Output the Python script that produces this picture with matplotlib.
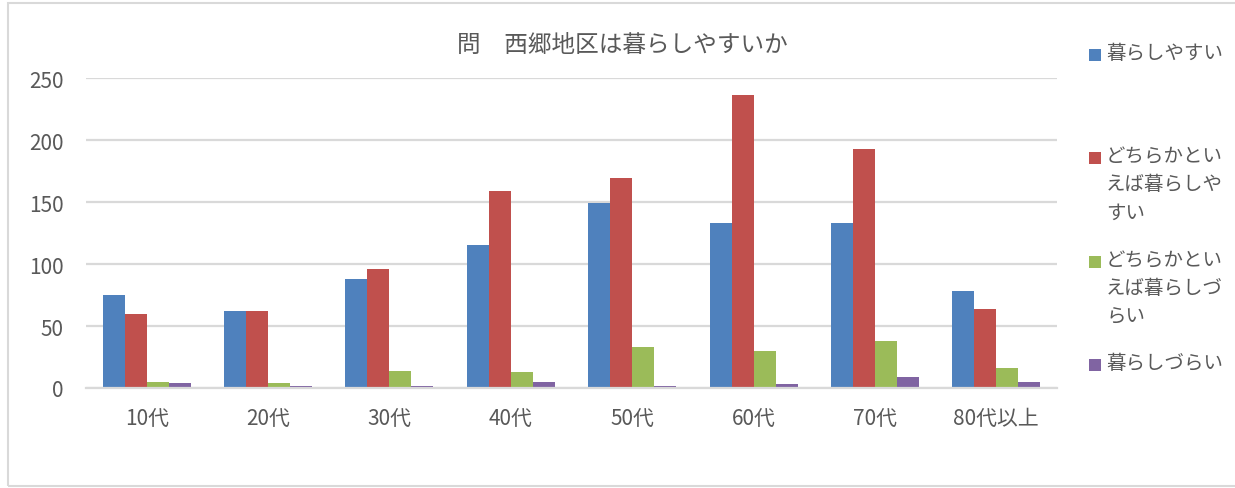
import matplotlib
matplotlib.use("Agg")
import matplotlib.pyplot as plt
import numpy as np
from matplotlib.patches import Rectangle

plt.rcParams['font.family'] = ['Noto Sans CJK JP', 'DejaVu Sans']

title = "問　西郷地区は暮らしやすいか"
categories = ["10代", "20代", "30代", "40代", "50代", "60代", "70代", "80代以上"]
series_names = ["暮らしやすい", "どちらかといえば暮らしやすい", "どちらかといえば暮らしづらい", "暮らしづらい"]
legend_labels = ["暮らしやすい", "どちらかとい\nえば暮らしや\nすい", "どちらかとい\nえば暮らしづ\nらい", "暮らしづらい"]
kurashiyasui = [75, 62, 88, 115, 149, 133, 133, 78]
dochira_yasui = [60, 62, 96, 159, 169, 236, 193, 64]
dochira_zurai = [5, 4, 14, 13, 33, 30, 38, 16]
kurashizurai = [4, 2, 2, 5, 2, 3, 9, 5]
yticks = [0, 50, 100, 150, 200, 250]

colors = ["#4F81BD", "#C0504D", "#9BBB59", "#8064A2"]
text_color = "#595959"
grid_color = "#D9D9D9"

W, H = 1235, 489
fig = plt.figure(figsize=(W / 100, H / 100), dpi=100)

# chart border
fig.patches.append(Rectangle((8 / W, 1 - 487 / H), (W + 10 - 8) / W, (487 - 4) / H,
                             transform=fig.transFigure, fill=False,
                             edgecolor=grid_color, linewidth=1.5))

left, right, top, bottom = 86, 1057, 79, 389
ax = fig.add_axes([left / W, 1 - bottom / H, (right - left) / W, (bottom - top) / H])

data = [kurashiyasui, dochira_yasui, dochira_zurai, kurashizurai]
x = np.arange(len(categories))
bw = 0.181
for i, (vals, c) in enumerate(zip(data, colors)):
    ax.bar(x + (i - 1.5) * bw, vals, width=bw, color=c, label=series_names[i], zorder=3)

ax.set_xlim(-0.5, len(categories) - 0.5)
ax.set_ylim(0, 250)
ax.set_yticks(yticks)
ax.set_xticks(x)
ax.set_xticklabels(categories)
ax.tick_params(axis='both', length=0, labelsize=15, colors=text_color)
ax.tick_params(axis='y', pad=16)
ax.tick_params(axis='x', pad=14)
ax.yaxis.grid(True, color=grid_color, linewidth=1.6, zorder=0)
for s in ['top', 'right', 'left']:
    ax.spines[s].set_visible(False)
ax.spines['bottom'].set_color(grid_color)
ax.spines['bottom'].set_linewidth(1.6)
ax.spines['bottom'].set_zorder(4)

fig.text(622 / W, 1 - 45 / H, title, ha='center', va='center', fontsize=17, color=text_color)

# legend (manual layout)
marker_tops = [50, 153, 257, 360]
for lbl, c, yt in zip(legend_labels, colors, marker_tops):
    fig.patches.append(Rectangle((1089 / W, 1 - (yt + 12) / H), 12 / W, 12 / H,
                                 transform=fig.transFigure, facecolor=c, edgecolor='none'))
    fig.text(1106 / W, 1 - (yt - 7) / H, lbl, ha='left', va='top', fontsize=14,
             color=text_color, linespacing=1.45)

fig.savefig("out.png", dpi=100)
